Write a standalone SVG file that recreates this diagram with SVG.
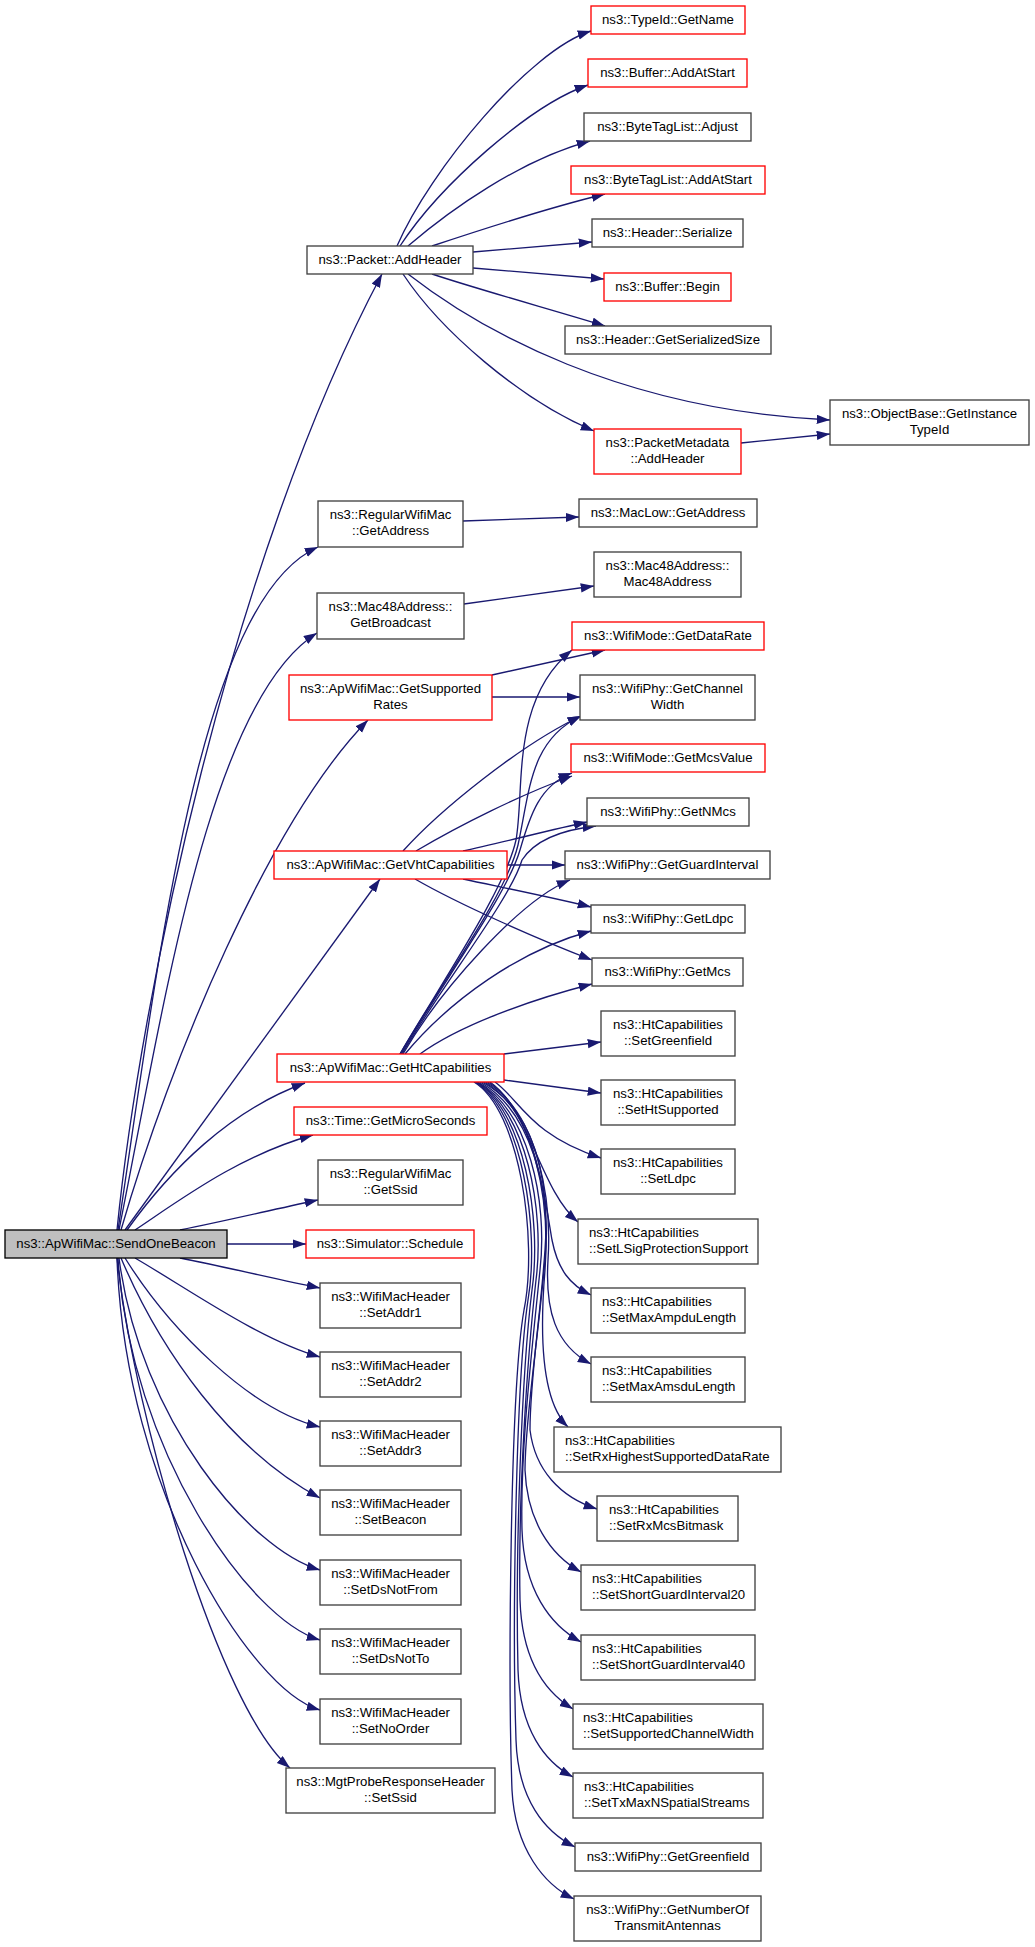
<svg xmlns="http://www.w3.org/2000/svg" width="1035" height="1947" viewBox="0 0 1035 1947">
<style>
.node rect{fill:#ffffff;stroke:#404040;stroke-width:1.33}
.node.red rect{stroke:#ff0000}
.node.root rect{fill:#bfbfbf;stroke:#000000}
text{font-family:"Liberation Sans",Arial,Helvetica,sans-serif;font-size:13.2px;fill:#000000}
.c{text-anchor:middle}
.l{text-anchor:start}
.edges path{fill:none;stroke:#191970;stroke-width:1.33;marker-end:url(#arrow)}
</style>
<defs>
<marker id="arrow" markerUnits="userSpaceOnUse" markerWidth="14" markerHeight="10" viewBox="0 0 14 10" refX="13.3" refY="4.65" orient="auto">
<path d="M0,0 L13.3,4.65 L0,9.3 Z" fill="#191970"/>
</marker>
</defs>
<rect x="0" y="0" width="1035" height="1947" fill="#ffffff"/>
<g id="edges" class="edges">
<path d="M397,246 C430,170 530,50 591,31"/>
<path d="M400,246 C440,185 530,105 588,85"/>
<path d="M408,246 C450,210 520,160 590,141"/>
<path d="M432,246 C480,230 560,205 605,194"/>
<path d="M473,252 L592,242"/>
<path d="M473,268 L604,279"/>
<path d="M432,274 C480,290 560,312 605,326"/>
<path d="M408,274 C480,330 620,410 830,420"/>
<path d="M403,274 C440,330 520,400 594,431"/>
<path d="M741,443 L830,434"/>
<path d="M463,521 L579,517"/>
<path d="M464,604 L594,586"/>
<path d="M492,675 L605,650"/>
<path d="M492,697 L580,697"/>
<path d="M403,851 C440,810 520,745 581,716"/>
<path d="M416,851 C460,825 520,795 572,776"/>
<path d="M463,851 C500,843 550,830 587,822"/>
<path d="M507,865 L565,865"/>
<path d="M463,879 C500,887 550,897 591,907"/>
<path d="M415,879 C460,905 540,940 592,960"/>
<path d="M400,1054 C440,985 505,890 516,840 C525,790 510,700 572,650"/>
<path d="M400,1054 C440,985 506,895 518,845 C530,790 530,740 581,716"/>
<path d="M401,1054 C441,985 507,895 520,850 C530,815 540,785 572,773"/>
<path d="M402,1054 C442,985 510,900 522,860 C535,840 560,830 596,826"/>
<path d="M403,1054 C440,990 520,900 570,880"/>
<path d="M405,1054 C450,1000 520,950 591,931"/>
<path d="M420,1054 C460,1025 530,1000 592,984"/>
<path d="M504,1054 L601,1042"/>
<path d="M504,1080 L601,1093"/>
<path d="M495,1082 C520,1100 530,1135 601,1158"/>
<path d="M490,1082 C530,1110 540,1190 578,1222"/>
<path d="M488,1082 C535,1110 545,1200 552,1240 C558,1270 570,1285 591,1295"/>
<path d="M486,1082 C538,1112 552,1200 548,1260 C545,1310 555,1345 591,1364"/>
<path d="M484,1082 C535,1110 550,1200 545,1270 C540,1330 540,1400 568,1427"/>
<path d="M482,1082 C535,1110 550,1180 545,1250 C540,1320 530,1380 530,1430 C535,1470 560,1497 597,1509"/>
<path d="M480,1082 C530,1110 552,1190 545,1260 C538,1340 525,1420 525,1470 C527,1520 550,1555 581,1572"/>
<path d="M478,1082 C528,1110 548,1200 540,1270 C532,1350 520,1450 522,1530 C524,1590 550,1625 581,1642"/>
<path d="M477,1082 C526,1110 545,1210 536,1280 C527,1360 518,1500 520,1600 C522,1660 545,1692 573,1709"/>
<path d="M476,1082 C524,1110 542,1220 532,1290 C522,1370 515,1550 518,1670 C520,1730 545,1762 573,1777"/>
<path d="M475,1082 C522,1110 540,1230 528,1300 C516,1380 512,1620 516,1740 C518,1800 545,1832 575,1847"/>
<path d="M474,1082 C520,1110 538,1240 524,1310 C510,1390 508,1680 512,1790 C515,1850 545,1885 574,1899"/>
<path d="M117,1230 C140,1000 230,560 382,274"/>
<path d="M118,1230 C160,950 200,600 318,547"/>
<path d="M119,1230 C165,1000 210,700 317,633"/>
<path d="M121,1230 C170,1060 270,820 368,720"/>
<path d="M125,1230 L380,879"/>
<path d="M127,1230 C170,1170 230,1110 305,1083"/>
<path d="M135,1230 C180,1200 240,1155 313,1135"/>
<path d="M180,1230 C230,1220 280,1208 318,1200"/>
<path d="M227,1244 L306,1244"/>
<path d="M180,1258 C230,1268 280,1280 320,1288"/>
<path d="M135,1258 C190,1290 260,1340 320,1357"/>
<path d="M125,1258 C170,1330 250,1410 320,1427"/>
<path d="M121,1258 C160,1350 230,1450 320,1498"/>
<path d="M119,1258 C140,1420 250,1550 320,1570"/>
<path d="M118,1258 C130,1450 250,1620 320,1640"/>
<path d="M117,1258 C125,1490 250,1690 320,1710"/>
<path d="M117,1258 C135,1420 220,1710 290,1768"/>
</g>
<g id="n1" class="node root"><rect x="5" y="1230" width="222" height="28"/><text class="c" x="116" y="1248">ns3::ApWifiMac::SendOneBeacon</text></g>
<g id="n2" class="node"><rect x="307" y="246" width="166" height="28"/><text class="c" x="390" y="264">ns3::Packet::AddHeader</text></g>
<g id="n3" class="node red"><rect x="591" y="6" width="154" height="28"/><text class="c" x="668" y="24">ns3::TypeId::GetName</text></g>
<g id="n4" class="node red"><rect x="588" y="59" width="159" height="28"/><text class="c" x="667.5" y="77">ns3::Buffer::AddAtStart</text></g>
<g id="n5" class="node"><rect x="584" y="113" width="167" height="28"/><text class="c" x="667.5" y="131">ns3::ByteTagList::Adjust</text></g>
<g id="n6" class="node red"><rect x="571" y="166" width="194" height="28"/><text class="c" x="668" y="184">ns3::ByteTagList::AddAtStart</text></g>
<g id="n7" class="node"><rect x="592" y="219" width="151" height="28"/><text class="c" x="667.5" y="237">ns3::Header::Serialize</text></g>
<g id="n8" class="node red"><rect x="604" y="273" width="127" height="28"/><text class="c" x="667.5" y="291">ns3::Buffer::Begin</text></g>
<g id="n9" class="node"><rect x="565" y="326" width="206" height="28"/><text class="c" x="668" y="344">ns3::Header::GetSerializedSize</text></g>
<g id="n10" class="node"><rect x="830" y="400" width="199" height="45"/><text class="c"><tspan x="929.5" y="417.5">ns3::ObjectBase::GetInstance</tspan><tspan x="929.5" y="434.3">TypeId</tspan></text></g>
<g id="n11" class="node red"><rect x="594" y="429" width="147" height="45"/><text class="c"><tspan x="667.5" y="446.5">ns3::PacketMetadata</tspan><tspan x="667.5" y="463.3">::AddHeader</tspan></text></g>
<g id="n12" class="node"><rect x="318" y="501" width="145" height="46"/><text class="c"><tspan x="390.5" y="518.5">ns3::RegularWifiMac</tspan><tspan x="390.5" y="535.3">::GetAddress</tspan></text></g>
<g id="n13" class="node"><rect x="579" y="499" width="178" height="28"/><text class="c" x="668" y="517">ns3::MacLow::GetAddress</text></g>
<g id="n14" class="node"><rect x="317" y="593" width="147" height="46"/><text class="c"><tspan x="390.5" y="610.5">ns3::Mac48Address::</tspan><tspan x="390.5" y="627.3">GetBroadcast</tspan></text></g>
<g id="n15" class="node"><rect x="594" y="552" width="147" height="45"/><text class="c"><tspan x="667.5" y="569.5">ns3::Mac48Address::</tspan><tspan x="667.5" y="586.3">Mac48Address</tspan></text></g>
<g id="n16" class="node red"><rect x="289" y="675" width="203" height="45"/><text class="c"><tspan x="390.5" y="692.5">ns3::ApWifiMac::GetSupported</tspan><tspan x="390.5" y="709.3">Rates</tspan></text></g>
<g id="n17" class="node red"><rect x="572" y="622" width="192" height="28"/><text class="c" x="668" y="640">ns3::WifiMode::GetDataRate</text></g>
<g id="n18" class="node"><rect x="580" y="675" width="175" height="45"/><text class="c"><tspan x="667.5" y="692.5">ns3::WifiPhy::GetChannel</tspan><tspan x="667.5" y="709.3">Width</tspan></text></g>
<g id="n19" class="node red"><rect x="571" y="744" width="194" height="28"/><text class="c" x="668" y="762">ns3::WifiMode::GetMcsValue</text></g>
<g id="n20" class="node"><rect x="587" y="798" width="162" height="28"/><text class="c" x="668" y="816">ns3::WifiPhy::GetNMcs</text></g>
<g id="n21" class="node red"><rect x="274" y="851" width="233" height="28"/><text class="c" x="390.5" y="869">ns3::ApWifiMac::GetVhtCapabilities</text></g>
<g id="n22" class="node"><rect x="565" y="851" width="205" height="28"/><text class="c" x="667.5" y="869">ns3::WifiPhy::GetGuardInterval</text></g>
<g id="n23" class="node"><rect x="591" y="905" width="154" height="28"/><text class="c" x="668" y="923">ns3::WifiPhy::GetLdpc</text></g>
<g id="n24" class="node"><rect x="592" y="958" width="151" height="28"/><text class="c" x="667.5" y="976">ns3::WifiPhy::GetMcs</text></g>
<g id="n25" class="node red"><rect x="277" y="1054" width="227" height="28"/><text class="c" x="390.5" y="1072">ns3::ApWifiMac::GetHtCapabilities</text></g>
<g id="n26" class="node"><rect x="601" y="1011" width="134" height="45"/><text class="c"><tspan x="668" y="1028.5">ns3::HtCapabilities</tspan><tspan x="668" y="1045.3">::SetGreenfield</tspan></text></g>
<g id="n27" class="node"><rect x="601" y="1080" width="134" height="45"/><text class="c"><tspan x="668" y="1097.5">ns3::HtCapabilities</tspan><tspan x="668" y="1114.3">::SetHtSupported</tspan></text></g>
<g id="n28" class="node"><rect x="601" y="1149" width="134" height="45"/><text class="c"><tspan x="668" y="1166.5">ns3::HtCapabilities</tspan><tspan x="668" y="1183.3">::SetLdpc</tspan></text></g>
<g id="n29" class="node"><rect x="578" y="1219" width="180" height="45"/><text class="l"><tspan x="589" y="1236.5">ns3::HtCapabilities</tspan><tspan x="589" y="1253.3">::SetLSigProtectionSupport</tspan></text></g>
<g id="n30" class="node"><rect x="591" y="1288" width="154" height="45"/><text class="l"><tspan x="602" y="1305.5">ns3::HtCapabilities</tspan><tspan x="602" y="1322.3">::SetMaxAmpduLength</tspan></text></g>
<g id="n31" class="node"><rect x="591" y="1357" width="154" height="45"/><text class="l"><tspan x="602" y="1374.5">ns3::HtCapabilities</tspan><tspan x="602" y="1391.3">::SetMaxAmsduLength</tspan></text></g>
<g id="n32" class="node"><rect x="554" y="1427" width="227" height="45"/><text class="l"><tspan x="565" y="1444.5">ns3::HtCapabilities</tspan><tspan x="565" y="1461.3">::SetRxHighestSupportedDataRate</tspan></text></g>
<g id="n33" class="node"><rect x="597" y="1496" width="141" height="45"/><text class="l"><tspan x="609" y="1513.5">ns3::HtCapabilities</tspan><tspan x="609" y="1530.3">::SetRxMcsBitmask</tspan></text></g>
<g id="n34" class="node"><rect x="581" y="1565" width="174" height="45"/><text class="l"><tspan x="592" y="1582.5">ns3::HtCapabilities</tspan><tspan x="592" y="1599.3">::SetShortGuardInterval20</tspan></text></g>
<g id="n35" class="node"><rect x="581" y="1635" width="174" height="45"/><text class="l"><tspan x="592" y="1652.5">ns3::HtCapabilities</tspan><tspan x="592" y="1669.3">::SetShortGuardInterval40</tspan></text></g>
<g id="n36" class="node"><rect x="573" y="1704" width="190" height="45"/><text class="l"><tspan x="583" y="1721.5">ns3::HtCapabilities</tspan><tspan x="583" y="1738.3">::SetSupportedChannelWidth</tspan></text></g>
<g id="n37" class="node"><rect x="573" y="1773" width="190" height="45"/><text class="l"><tspan x="584" y="1790.5">ns3::HtCapabilities</tspan><tspan x="584" y="1807.3">::SetTxMaxNSpatialStreams</tspan></text></g>
<g id="n38" class="node"><rect x="575" y="1843" width="186" height="28"/><text class="c" x="668" y="1861">ns3::WifiPhy::GetGreenfield</text></g>
<g id="n39" class="node"><rect x="574" y="1896" width="187" height="45"/><text class="c"><tspan x="667.5" y="1913.5">ns3::WifiPhy::GetNumberOf</tspan><tspan x="667.5" y="1930.3">TransmitAntennas</tspan></text></g>
<g id="n40" class="node red"><rect x="294" y="1107" width="193" height="28"/><text class="c" x="390.5" y="1125">ns3::Time::GetMicroSeconds</text></g>
<g id="n41" class="node"><rect x="318" y="1160" width="145" height="45"/><text class="c"><tspan x="390.5" y="1177.5">ns3::RegularWifiMac</tspan><tspan x="390.5" y="1194.3">::GetSsid</tspan></text></g>
<g id="n42" class="node red"><rect x="306" y="1230" width="168" height="28"/><text class="c" x="390" y="1248">ns3::Simulator::Schedule</text></g>
<g id="n43" class="node"><rect x="320" y="1283" width="141" height="45"/><text class="c"><tspan x="390.5" y="1300.5">ns3::WifiMacHeader</tspan><tspan x="390.5" y="1317.3">::SetAddr1</tspan></text></g>
<g id="n44" class="node"><rect x="320" y="1352" width="141" height="45"/><text class="c"><tspan x="390.5" y="1369.5">ns3::WifiMacHeader</tspan><tspan x="390.5" y="1386.3">::SetAddr2</tspan></text></g>
<g id="n45" class="node"><rect x="320" y="1421" width="141" height="45"/><text class="c"><tspan x="390.5" y="1438.5">ns3::WifiMacHeader</tspan><tspan x="390.5" y="1455.3">::SetAddr3</tspan></text></g>
<g id="n46" class="node"><rect x="320" y="1490" width="141" height="45"/><text class="c"><tspan x="390.5" y="1507.5">ns3::WifiMacHeader</tspan><tspan x="390.5" y="1524.3">::SetBeacon</tspan></text></g>
<g id="n47" class="node"><rect x="320" y="1560" width="141" height="45"/><text class="c"><tspan x="390.5" y="1577.5">ns3::WifiMacHeader</tspan><tspan x="390.5" y="1594.3">::SetDsNotFrom</tspan></text></g>
<g id="n48" class="node"><rect x="320" y="1629" width="141" height="45"/><text class="c"><tspan x="390.5" y="1646.5">ns3::WifiMacHeader</tspan><tspan x="390.5" y="1663.3">::SetDsNotTo</tspan></text></g>
<g id="n49" class="node"><rect x="320" y="1699" width="141" height="45"/><text class="c"><tspan x="390.5" y="1716.5">ns3::WifiMacHeader</tspan><tspan x="390.5" y="1733.3">::SetNoOrder</tspan></text></g>
<g id="n50" class="node"><rect x="286" y="1768" width="209" height="45"/><text class="c"><tspan x="390.5" y="1785.5">ns3::MgtProbeResponseHeader</tspan><tspan x="390.5" y="1802.3">::SetSsid</tspan></text></g>
</svg>
